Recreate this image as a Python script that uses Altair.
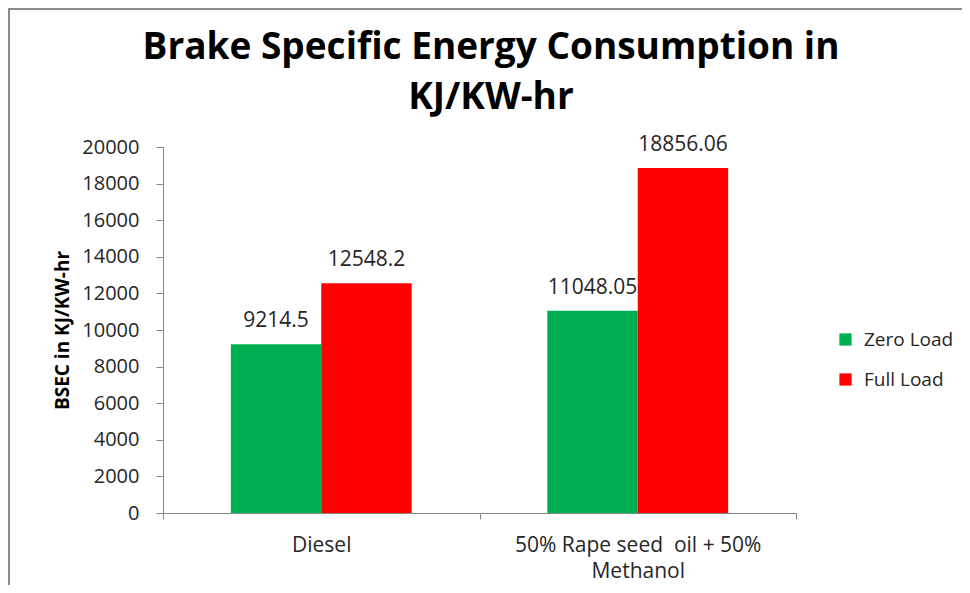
import altair as alt
import pandas as pd

categories = ["Diesel", "50% Rape seed \u00a0oil + 50%\nMethanol"]
series = ["Zero Load", "Full Load"]
zero_load = [9214.5, 11048.05]
full_load = [12548.2, 18856.06]
colors = ["#00B050", "#FF0000"]
y_ticks = [0, 2000, 4000, 6000, 8000, 10000, 12000, 14000, 16000, 18000, 20000]
title_lines = ["Brake Specific Energy Consumption in", "KJ/KW-hr"]

rows = []
for i, c in enumerate(categories):
    rows.append({"cat": c, "load": series[0], "val": zero_load[i], "lbl": str(zero_load[i])})
    rows.append({"cat": c, "load": series[1], "val": full_load[i], "lbl": str(full_load[i])})
df = pd.DataFrame(rows)

FONT = "Open Sans"
TXT = "#262626"

x_axis = alt.Axis(title=None, labelAngle=0, labelFont=FONT, labelFontSize=21,
                  labelColor=TXT, labelPadding=15, labelLineHeight=26,
                  labelLimit=500,
                  labelExpr="split(datum.label, '\\n')",
                  tickBand="extent", tickSize=6, tickColor="#868686",
                  domainColor="#868686", labelBaseline="top")
y_axis = alt.Axis(title="BSEC in KJ/KW-hr", values=y_ticks, grid=False, format="d",
                  labelFont=FONT, labelFontSize=20, labelColor=TXT, labelPadding=17,
                  labelOverlap=False,
                  tickSize=7, tickColor="#868686", domainColor="#868686",
                  titleFont=FONT, titleFontSize=19, titleFontWeight="bold",
                  titleColor="#000000", titlePadding=9)
x_scale = alt.Scale(paddingInner=0, paddingOuter=0)
xo_scale = alt.Scale(paddingInner=0, paddingOuter=0.75)
y_scale = alt.Scale(domain=[0, 20000], nice=False)

bars = alt.Chart(df).mark_bar().encode(
    x=alt.X("cat:N", sort=categories, scale=x_scale, axis=x_axis),
    xOffset=alt.XOffset("load:N", sort=series, scale=xo_scale),
    y=alt.Y("val:Q", scale=y_scale, axis=y_axis),
    color=alt.Color("load:N", sort=series,
                    scale=alt.Scale(domain=series, range=colors),
                    legend=alt.Legend(title=None, orient="none", legendX=673, legendY=183,
                                      symbolType="square", symbolSize=150,
                                      symbolStrokeWidth=0, labelFont=FONT,
                                      labelFontSize=19, labelColor=TXT, rowPadding=20,
                                      labelOffset=9)),
)

labels = alt.Chart(df).mark_text(font=FONT, fontSize=21, color=TXT, baseline="alphabetic", dy=-17).encode(
    x=alt.X("cat:N", sort=categories, scale=x_scale, axis=x_axis),
    xOffset=alt.XOffset("load:N", sort=series, scale=xo_scale),
    y=alt.Y("val:Q", scale=y_scale, axis=y_axis),
    text="lbl:N",
)

title = alt.Chart(pd.DataFrame({"a": [0]})).mark_text(
    text=title_lines, font=FONT, fontSize=37, fontWeight="bold", color="#000000",
    baseline="middle", align="center", lineHeight=50).encode(
    x=alt.value(328), y=alt.value(-99))

frame = alt.Chart(pd.DataFrame({"a": [0]})).mark_rule(color="#8c8c8c", strokeWidth=2).encode(
    x=alt.value(-154), y=alt.value(-139), y2=alt.value(460))
frame_top = alt.Chart(pd.DataFrame({"a": [0]})).mark_rule(color="#8c8c8c", strokeWidth=2).encode(
    x=alt.value(-154), x2=alt.value(820), y=alt.value(-138))

chart = alt.layer(frame, frame_top, bars, labels, title).properties(
    width=633, height=366,
    padding={"left": 155, "top": 139, "right": 166, "bottom": 72},
    autosize=alt.AutoSizeParams(type="none"),
).configure_view(stroke=None).configure_axisY(labelOverlap=False)

chart.save("out.html", embed_options={"renderer": "svg", "actions": False})
